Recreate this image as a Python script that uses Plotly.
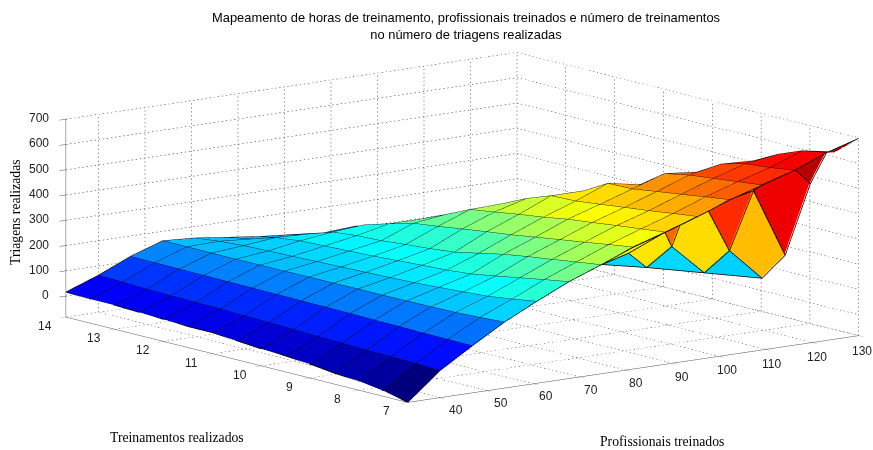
import plotly.graph_objects as go

x_vals = [33, 39.93, 46.86, 53.79, 60.71, 67.64, 74.57, 81.5, 88.43, 95.36, 102.29, 109.21, 116.14, 123.07, 130]
y_vals = [7, 7.5, 8, 8.5, 9, 9.5, 10, 10.5, 11, 11.5, 12, 12.5, 13, 13.5, 14]
z_grid = [
    [-83, 24, 103, 178, 241, 300, 348, 399, 439, 482, 530, 569, 609, 660, 698],
    [-61, 27, 104, 172, 226, 284, 335, 385, 428, 470, 517, 558, 595, 643, 620],
    [-47, 30, 105, 168, 213, 267, 321, 370, 417, 457, 503, 547, 586, 605, 590],
    [-40, 32, 107, 166, 206, 250, 308, 356, 405, 446, 490, 536, 561, 555, 540],
    [-28, 35, 108, 165, 200, 234, 293, 342, 394, 434, 476, 518, 505, 495, 480],
    [-20, 38, 110, 164, 194, 225, 273, 327, 378, 423, 474, 450, 440, 430, 420],
    [-16, 41, 111, 164, 190, 220, 253, 315, 365, 420, 420, 400, 380, 360, 340],
    [-8, 45, 112, 163, 187, 214, 243, 302, 350, 385, 370, 350, 330, 310, 290],
    [0, 47, 113, 163, 184, 208, 235, 288, 336, 340, 320, 300, 285, 265, 250],
    [0, 50, 114, 162, 181, 204, 226, 276, 292, 285, 270, 255, 240, 220, 205],
    [4, 52, 115, 162, 178, 200, 222, 250, 250, 250, 235, 220, 205, 185, 170],
    [8, 54, 116, 161, 175, 196, 212, 222, 205, 190, 175, 165, 150, 135, 120],
    [12, 56, 117, 161, 172, 185, 180, 165, 150, 140, 130, 120, 110, 100, 100],
    [12, 60, 118, 162, 165, 155, 140, 125, 115, 110, 105, 100, 100, 100, 100],
    [16, 63, 119, 162, 154, 138, 122, 111, 99, 107, 87, 91, 99, 99, 95],
]
flap_x = {"S": 74.9, "A": 80.6, "B": 84.5, "C": 89.9, "D": 88.43, "E": 91.7, "F": 97.8, "G": 102.3,
          "H": 96.9, "I": 107.5, "J": 114.3, "K": 109.3, "L": 116.4, "M": 119.7, "N": 123.2, "P": 81.5, "Q": 95.36, "R": 102.29, "T": 109.21}
flap_z = {"S": 348, "A": 377, "B": 310, "C": 378, "D": 439, "E": 459, "F": 497, "G": 328,
          "H": 255, "I": 552, "J": 278, "K": 200, "L": 609, "M": 546, "N": 660, "P": 399, "Q": 482, "R": 530, "T": 569}
flaps = [("SAB", "#00d8ff"), ("BCH", "#00d8ff"), ("HGK", "#00d0ff"), ("SPDA", "#ffe600"), ("ADCB", "#ffe600"), ("DEC", "#ff6600"),
         ("EQFGHC", "#ffdc00"), ("FRIG", "#ff2a00"), ("IJKG", "#ffbc00"), ("ITLMJ", "#ee0000"), ("LNM", "#b80000")]
x_ticks = [40, 50, 60, 70, 80, 90, 100, 110, 120, 130]
y_ticks = [7, 8, 9, 10, 11, 12, 13, 14]
z_ticks = [0, 100, 200, 300, 400, 500, 600, 700]
x_min = 33
z_floor = -83
z_top = 700

def jet(v):
    v = max(0.0, min(1.0, v))
    def c(t):
        return max(0.0, min(1.0, 1.5 - abs(4 * t)))
    r, g, b = c(v - 0.75), c(v - 0.5), c(v - 0.25)
    return "rgb(%d,%d,%d)" % (r * 255, g * 255, b * 255)

nx, ny = len(x_vals), len(y_vals)
vx, vy, vz = [], [], []
for j in range(ny):
    for i in range(nx):
        vx.append(x_vals[i]); vy.append(y_vals[j]); vz.append(z_grid[j][i])
ti, tj, tk, fc = [], [], [], []
for j in range(ny - 1):
    for i in range(nx - 1):
        a = j * nx + i
        col = jet((z_grid[j][i] - z_floor) / (z_top - z_floor))
        ti += [a, a]; tj += [a + 1, a + nx + 1]; tk += [a + nx + 1, a + nx]; fc += [col, col]
light = dict(ambient=1, diffuse=0, specular=0, roughness=1, fresnel=0)
traces = [go.Mesh3d(x=vx, y=vy, z=vz, i=ti, j=tj, k=tk, facecolor=fc, flatshading=True, lighting=light, hoverinfo="skip")]
lx, ly, lz = [], [], []
for j in range(ny):
    lx += x_vals + [None]; ly += [y_vals[j]] * nx + [None]; lz += z_grid[j] + [None]
for i in range(nx):
    lx += [x_vals[i]] * ny + [None]; ly += y_vals + [None]; lz += [z_grid[j][i] for j in range(ny)] + [None]
traces.append(go.Scatter3d(x=lx, y=ly, z=lz, mode="lines", line=dict(color="black", width=1.5), hoverinfo="skip"))

fx, fy, fz, fi, fj, fk, ffc = [], [], [], [], [], [], []
ex, ey, ez = [], [], []
for names, col in flaps:
    base = len(fx)
    for n in names:
        fx.append(flap_x[n]); fy.append(7.03); fz.append(flap_z[n])
    for m in range(1, len(names) - 1):
        fi.append(base); fj.append(base + m); fk.append(base + m + 1); ffc.append(col)
    for n in names + names[0]:
        ex.append(flap_x[n]); ey.append(7.01); ez.append(flap_z[n])
    ex.append(None); ey.append(None); ez.append(None)
traces.append(go.Mesh3d(x=fx, y=fy, z=fz, i=fi, j=fj, k=fk, facecolor=ffc, flatshading=True, lighting=light, hoverinfo="skip"))
traces.append(go.Scatter3d(x=ex, y=ey, z=ez, mode="lines", line=dict(color="black", width=1.5), hoverinfo="skip"))

gx, gy, gz = [], [], []
def seg(a, b, n):
    for m in range(n):
        t0, t1 = m / n, (m + 0.35) / n
        gx.extend([a[0] + (b[0] - a[0]) * t0, a[0] + (b[0] - a[0]) * t1, None])
        gy.extend([a[1] + (b[1] - a[1]) * t0, a[1] + (b[1] - a[1]) * t1, None])
        gz.extend([a[2] + (b[2] - a[2]) * t0, a[2] + (b[2] - a[2]) * t1, None])
for t in x_ticks:
    seg((t, 7, z_floor), (t, 14, z_floor), 90); seg((t, 14, z_floor), (t, 14, z_top), 50)
for t in y_ticks:
    seg((x_min, t, z_floor), (130, t, z_floor), 110); seg((130, t, z_floor), (130, t, z_top), 50)
for t in [z_floor] + z_ticks:
    seg((x_min, 14, t), (130, 14, t), 110); seg((130, 14, t), (130, 7, t), 90)
traces.append(go.Scatter3d(x=gx, y=gy, z=gz, mode="lines", line=dict(color="#222222", width=1), hoverinfo="skip"))

tick_font = dict(family="Liberation Sans", size=12, color="#222222")
scene_notes = []
for t in x_ticks:
    f = (t - 40) / 90
    scene_notes.append(dict(x=t, y=7, z=z_floor, text=str(t), showarrow=False, font=tick_font,
                            xshift=16 - 13 * f, yshift=-(12 + 3 * f)))
for t in y_ticks:
    scene_notes.append(dict(x=x_min, y=t, z=z_floor, text=str(t), showarrow=False, font=tick_font, xshift=-21, yshift=-9))
for t in z_ticks:
    scene_notes.append(dict(x=x_min, y=14, z=t, text=str(t), showarrow=False, font=tick_font, xanchor="right", xshift=-15, yshift=1))

ax = dict(showgrid=False, zeroline=False, showbackground=False, showline=True, linecolor="#555555", linewidth=1,
          ticks="outside", ticklen=8, tickcolor="#555555", showticklabels=False,
          title=dict(text=""), showspikes=False)
fig = go.Figure(traces)
fig.update_layout(
    width=873, height=450, margin=dict(l=0, r=0, t=0, b=0), paper_bgcolor="white", showlegend=False,
    font=dict(family="Liberation Sans"),
    scene=dict(
        domain=dict(x=[0, 1], y=[0, 1]),
        xaxis=dict(ax, range=[x_min, 130], tickmode="array", tickvals=x_ticks),
        yaxis=dict(ax, range=[7, 14], tickmode="array", tickvals=y_ticks),
        zaxis=dict(ax, range=[z_floor, z_top], tickmode="array", tickvals=z_ticks),
        aspectmode="manual", aspectratio=dict(x=2.53, y=2.49, z=0.896),
        camera=dict(projection=dict(type="orthographic"), up=dict(x=0, y=0, z=1),
                    center=dict(x=-0.091, y=0.07, z=0.011), eye=dict(x=-1.881, y=-2.255, z=0.586)),
        annotations=scene_notes,
    ),
    annotations=[
        dict(text="Mapeamento de horas de treinamento, profissionais treinados e número de treinamentos<br>no número de triagens realizadas",
             x=466, y=26, showarrow=False, font=dict(size=12.9, color="black", family="Liberation Sans")),
        dict(text="Treinamentos realizados", x=177, y=437, showarrow=False, font=dict(family="Liberation Serif", size=13.7, color="black")),
        dict(text="Profissionais treinados", x=662, y=441, showarrow=False, font=dict(family="Liberation Serif", size=13.7, color="black")),
        dict(text="Triagens realizadas", x=16, y=212, textangle=-90, showarrow=False, font=dict(family="Liberation Serif", size=13.7, color="black")),
    ],
)
for a in fig.layout.annotations:
    a.update(xref="paper", yref="paper", xanchor="center", yanchor="middle", x=a.x / 873, y=1 - a.y / 450)
fig.write_html("out.html", config=dict(displayModeBar=False), post_script="document.body.style.margin='0';")
